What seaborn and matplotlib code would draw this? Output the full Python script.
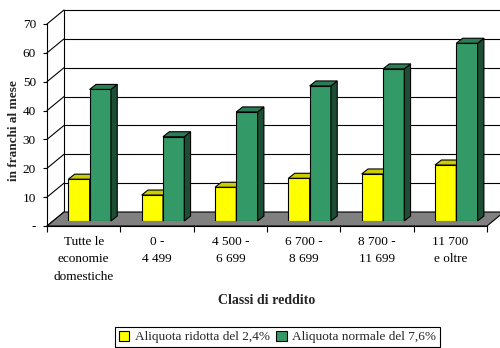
import matplotlib
matplotlib.use("Agg")
import matplotlib.pyplot as plt
from matplotlib.patches import Polygon
import seaborn as sns
import pandas as pd

# Data
classi = ["Tutte le\neconomie\ndomestiche", "0 -\n4 499", "4 500 -\n6 699",
          "6 700 -\n8 699", "8 700 -\n11 699", "11 700\ne oltre"]
aliquote = ["Aliquota ridotta del 2,4%", "Aliquota normale del 7,6%"]
ridotta = [14.5, 9.0, 11.7, 14.8, 16.3, 19.4]
normale = [45.6, 29.2, 37.8, 46.8, 52.7, 61.6]
y_ticks = [0, 10, 20, 30, 40, 50, 60, 70]
y_tick_labels = ["-", "10", "20", "30", "40", "50", "60", "70"]

df = pd.DataFrame({
    "classe": classi * 2,
    "aliquota": [aliquote[0]] * len(classi) + [aliquote[1]] * len(classi),
    "valore": ridotta + normale,
})

sns.set_style("white")
plt.rcParams["font.family"] = ["Liberation Serif", "DejaVu Serif"]
plt.rcParams["font.size"] = 9.5

W, H = 500, 348
fig = plt.figure(figsize=(W / 100, H / 100), dpi=100)

# Front plane (axis lines, ticks, labels)
axf = fig.add_axes([47 / W, (H - 226) / H, 440 / W, 202 / H])
# Bar plane, a few pixels deeper
ax = fig.add_axes([53 / W, (H - 221) / H, 440 / W, 202 / H])

face_cols = ["#FFFF00", "#339966"]
top_cols = ["#CCCC00", "#2A7D54"]
side_cols = ["#999900", "#1E4D36"]

sns.barplot(data=df, x="classe", y="valore", hue="aliquota",
            hue_order=aliquote, palette=face_cols, saturation=1, width=0.58,
            edgecolor="black", linewidth=0.8, ax=ax, legend=False)

xlim = (-0.5, len(classi) - 0.5)
ylim = (0, 70)
ax.set_xlim(*xlim)
ax.set_ylim(*ylim)
ax.axis("off")

# pixel -> data unit conversion
ux = (xlim[1] - xlim[0]) / 440.0
uy = (ylim[1] - ylim[0]) / 202.0

# depth offsets (pixels): bar depth, back wall, front plane
bdx, bdy = 6.3 * ux, 5.0 * uy
wdx, wdy = 11 * ux, 9 * uy
fdx, fdy = -6 * ux, -5 * uy

# Back wall gridlines and left wall diagonals
x_wall0 = xlim[0] + wdx
for v in y_ticks:
    if v > 0:
        ax.plot([x_wall0, xlim[1] + wdx + 1], [v + wdy, v + wdy], color="black",
                lw=0.8, zorder=0.5, clip_on=False)
    ax.plot([xlim[0] + fdx, x_wall0], [v + fdy, v + wdy], color="black",
            lw=0.8, zorder=0.5, clip_on=False)
ax.plot([x_wall0, x_wall0], [wdy, 70 + wdy], color="black", lw=0.8,
        zorder=0.5, clip_on=False)

# Floor
floor = Polygon([(xlim[0] + fdx, fdy), (xlim[1] + fdx, fdy),
                 (xlim[1] + wdx, wdy), (xlim[0] + wdx, wdy)],
                closed=True, facecolor="#808080", edgecolor="black", lw=0.8,
                zorder=0.8, clip_on=False)
ax.add_patch(floor)

# 3D tops and sides for each bar
for i, cont in enumerate(ax.containers):
    z = 2 + i
    for p in cont:
        x0 = p.get_x()
        x1 = x0 + p.get_width()
        h = p.get_height()
        p.set_zorder(z)
        top = Polygon([(x0, h), (x1, h), (x1 + bdx, h + bdy), (x0 + bdx, h + bdy)],
                      closed=True, facecolor=top_cols[i], edgecolor="black",
                      lw=0.8, zorder=z, clip_on=False)
        side = Polygon([(x1, 0), (x1 + bdx, bdy), (x1 + bdx, h + bdy), (x1, h)],
                       closed=True, facecolor=side_cols[i], edgecolor="black",
                       lw=0.8, zorder=z, clip_on=False)
        ax.add_patch(side)
        ax.add_patch(top)

# Front axis
axf.set_xlim(*xlim)
axf.set_ylim(*ylim)
axf.patch.set_visible(False)
for s in ["top", "right"]:
    axf.spines[s].set_visible(False)
for s in ["left", "bottom"]:
    axf.spines[s].set_color("black")
    axf.spines[s].set_linewidth(0.8)
axf.set_yticks(y_ticks)
axf.set_yticklabels(y_tick_labels)
axf.set_xticks(range(len(classi)))
axf.set_xticklabels(classi, linespacing=1.6)
axf.set_xticks([k - 0.5 for k in range(len(classi) + 1)], minor=True)
axf.tick_params(axis="y", direction="out", length=3, width=0.8, pad=5,
                colors="black", left=True, labelsize=9.5)
axf.tick_params(axis="x", which="major", length=0, pad=7, labelsize=9.5,
                colors="black")
axf.tick_params(axis="x", which="minor", direction="out", length=4, width=0.8,
                bottom=True, colors="black")
axf.grid(False)

fig.text(14 / W, 1 - 131 / H, "in franchi al mese", rotation=90, ha="center",
         va="center", fontweight="bold", fontsize=9.5)
fig.text(267 / W, 1 - 301 / H, "Classi di reddito", ha="center", va="center",
         fontweight="bold", fontsize=10)

handles = [ax.containers[0][0], ax.containers[1][0]]
leg = fig.legend(handles, aliquote, ncol=2, loc="center",
                 bbox_to_anchor=(277.5 / W, 1 - 337 / H),
                 bbox_transform=fig.transFigure, frameon=True, fancybox=False,
                 edgecolor="black", framealpha=1, handlelength=0.8,
                 handleheight=0.8, handletextpad=0.4, columnspacing=0.5,
                 borderpad=0.3, borderaxespad=0, fontsize=9.5)
leg.get_frame().set_linewidth(0.8)

fig.savefig("out.png", dpi=100)
